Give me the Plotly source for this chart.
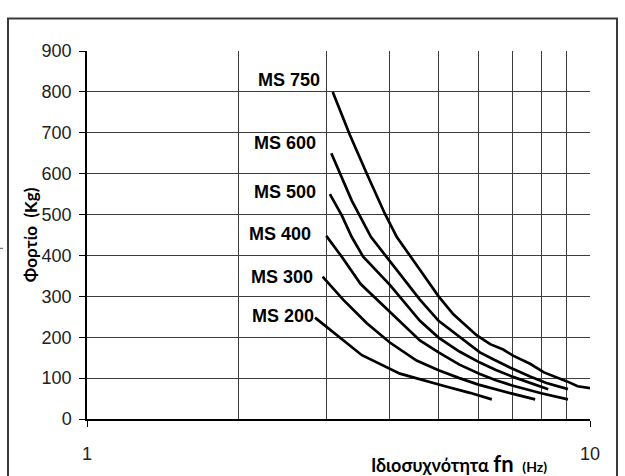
import math
import plotly.graph_objects as go

# ---- data ----
series_names = ["MS 750", "MS 600", "MS 500", "MS 400", "MS 300", "MS 200"]

ms750_x = [3.08, 3.33, 3.60, 3.91, 4.13, 4.39, 4.59, 5.00, 5.35, 5.95, 6.33, 6.72, 7.03, 7.60, 8.10, 9.00, 9.45, 10.05]
ms750_y = [800, 695, 600, 502, 445, 397, 365, 300, 256, 205, 183, 170, 155, 135, 114, 92, 80, 75]

ms600_x = [3.06, 3.36, 3.67, 3.94, 4.30, 4.59, 5.00, 5.50, 6.04, 6.42, 6.93, 7.60, 8.19, 9.04]
ms600_y = [650, 534, 445, 397, 335, 292, 240, 200, 163, 146, 126, 104, 88, 73]

ms500_x = [3.04, 3.21, 3.36, 3.54, 4.00, 4.59, 5.00, 5.50, 6.04, 6.50, 7.03, 7.70, 8.26]
ms500_y = [550, 498, 445, 397, 328, 240, 199, 165, 138, 120, 103, 85, 73]

ms400_x = [2.99, 3.21, 3.50, 4.00, 4.59, 5.00, 5.50, 6.04, 6.50, 7.00, 8.00, 9.04]
ms400_y = [448, 397, 330, 262, 192, 163, 133, 110, 95, 82, 63, 48]

ms300_x = [2.94, 3.23, 3.60, 4.00, 4.52, 5.00, 5.50, 6.00, 7.00, 7.78]
ms300_y = [348, 292, 234, 187, 143, 119, 100, 84, 62, 48]

ms200_x = [2.84, 3.52, 4.19, 4.59, 5.15, 5.77, 6.38]
ms200_y = [248, 156, 111, 97, 80, 64, 48]

# label anchor (right edge x, centre y) in data units
label_x = [2.93, 2.875, 2.875, 2.82, 2.845, 2.855]
label_y = [830, 675, 554, 453, 347, 253]

y_ticks = [0, 100, 200, 300, 400, 500, 600, 700, 800, 900]
x_ticks = [1, 10]
x_minor = [2, 3, 4, 5, 6, 7, 8, 9]

xs = [ms750_x, ms600_x, ms500_x, ms400_x, ms300_x, ms200_x]
ys = [ms750_y, ms600_y, ms500_y, ms400_y, ms300_y, ms200_y]

fig = go.Figure()
for name, x, y in zip(series_names, xs, ys):
    fig.add_trace(go.Scatter(x=x, y=y, mode="lines", name=name,
                             line=dict(color="black", width=2.7),
                             cliponaxis=False, showlegend=False))

annotations = []
for name, lx, ly in zip(series_names, label_x, label_y):
    annotations.append(dict(x=math.log10(lx), y=ly, xref="x", yref="y",
                            text="<b>%s</b>" % name,
                            showarrow=False, xanchor="right", yanchor="middle",
                            font=dict(family="Liberation Sans", size=18, color="black")))

annotations.append(dict(x=-0.113, y=0.5, xref="paper", yref="paper",
                        text="<b>Φορτίο  (Kg)</b>", textangle=-90, showarrow=False,
                        xanchor="center", yanchor="middle",
                        font=dict(family="Lato", size=17, color="black")))
annotations.append(dict(x=0.74, y=-0.122, xref="paper", yref="paper",
                        text="<b>Ιδιοσυχνότητα <span style='font-size:22px'>fn</span>"
                             "  <span style='font-size:14px'>(Hz)</span></b>",
                        showarrow=False, xanchor="center", yanchor="middle",
                        font=dict(family="Lato", size=18, color="black")))

grid_col = "#3c3c3c"
fig.update_layout(
    width=625, height=476,
    margin=dict(l=87, r=35, t=51, b=52),
    paper_bgcolor="white", plot_bgcolor="white",
    annotations=annotations,
    xaxis=dict(type="log", range=[0, 1], tickmode="array", tickvals=x_ticks,
               ticktext=[str(v) for v in x_ticks], ticks="outside", ticklen=6,
               tickcolor="black", showgrid=True, gridcolor=grid_col, gridwidth=1,
               showline=True, linecolor="black", linewidth=1.5, mirror=False,
               ticklabelstandoff=12,
               tickfont=dict(family="Liberation Sans", size=18, color="#222"),
               minor=dict(tickvals=x_minor, showgrid=True, gridcolor=grid_col,
                          gridwidth=1, ticks=""),
               zeroline=False),
    yaxis=dict(range=[0, 900], tickvals=y_ticks, ticks="outside", ticklen=6,
               tickcolor="black", showgrid=True, gridcolor=grid_col, gridwidth=1,
               showline=True, linecolor="black", linewidth=1.5,
               ticklabelstandoff=4,
               tickfont=dict(family="Liberation Sans", size=18, color="#222"),
               zeroline=False),
    shapes=[
        dict(type="rect", xref="paper", yref="paper",
             x0=(8 - 87) / 503, x1=(617 - 87) / 503,
             y0=(424 - 495) / 373, y1=(424 - 18) / 373,
             line=dict(color="#3a3a3a", width=2), fillcolor="rgba(0,0,0,0)", layer="below"),
        dict(type="line", xref="paper", yref="paper",
             x0=(0 - 87) / 503, x1=(3 - 87) / 503,
             y0=(424 - 251) / 373, y1=(424 - 251) / 373,
             line=dict(color="#555", width=1)),
    ],
)

fig.write_html("out.html", config={"displayModeBar": False},
               post_script="document.body.style.margin='0';document.body.style.overflow='hidden';")
